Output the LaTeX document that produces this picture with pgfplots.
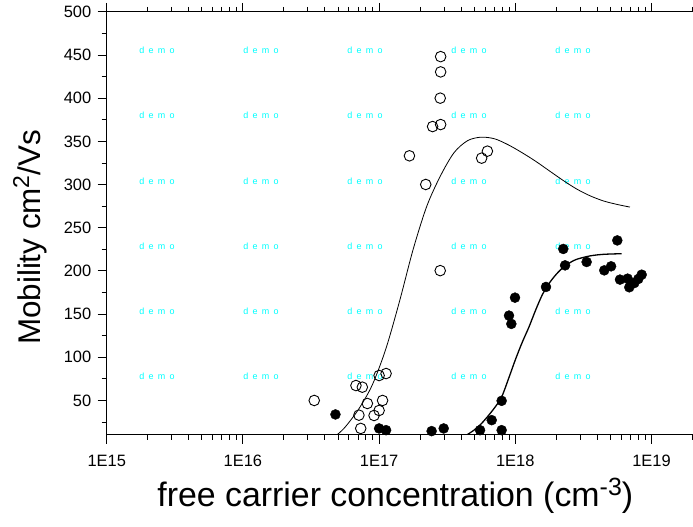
\documentclass[border=0pt]{standalone}
\usepackage{fontspec}
\setmainfont{Liberation Sans}
\usepackage{pgfplots}
\pgfplotsset{compat=1.18}
\definecolor{wm}{RGB}{0,255,255}

\begin{document}
\begin{tikzpicture}[x=1bp,y=1bp]
% watermark
\foreach \px in {157,261,365,469,573}{
  \foreach \py in {50,115.7,181,246.3,311.7,376.7}{
    \node[text=wm, font=\fontsize{9}{10}\selectfont, inner sep=0pt] at (\px-106.7, 435-\py) {d\hspace{4.2bp}e\hspace{4.2bp}m\hspace{4.2bp}o};
  }
}
\begin{axis}[
  at={(0,0)}, anchor=south west,
  scale only axis, width=587.5bp, height=423bp,
  xmode=log, log basis x=10,
  xmin=1e15, xmax=2.06e19, ymin=10, ymax=500,
  xtick={1e15,1e16,1e17,1e18,1e19},
  xticklabels={1E15,1E16,1E17,1E18,1E19},
  minor xtick={2e15,3e15,4e15,5e15,6e15,7e15,8e15,9e15,
               2e16,3e16,4e16,5e16,6e16,7e16,8e16,9e16,
               2e17,3e17,4e17,5e17,6e17,7e17,8e17,9e17,
               2e18,3e18,4e18,5e18,6e18,7e18,8e18,9e18,2e19},
  ytick={50,100,...,500},
  minor ytick={25,75,...,475},
  xtick pos=both, ytick pos=left,
  xticklabel pos=bottom,
  tick align=outside,
  major tick length=9bp, minor tick length=5bp,
  axis line style={line width=1bp},
  tick style={black, line width=1bp},
  tick label style={font=\fontsize{16.5}{18}\selectfont},
  xticklabel style={yshift=-8bp},
  yticklabel style={xshift=-3bp},
  /pgf/number format/assume math mode=true,
  xlabel={free carrier concentration (cm\raisebox{11bp}{\fontsize{25}{25}\selectfont -3})},
  ylabel={Mobility cm\raisebox{11bp}{\fontsize{23}{23}\selectfont 2}/Vs},
  xlabel style={font=\fontsize{34}{36}\selectfont, at={(rel axis cs:0.4911,-0.170)}, anchor=base},
  ylabel style={font=\fontsize{31.5}{34}\selectfont, at={(rel axis cs:-0.1306,0.467)}, anchor=center},
  clip=true,
]
% fit curve for open symbols
\addplot[black, line width=0.8bp, smooth] coordinates {
  (4.89e16,10) (5.62e16,19) (7.08e16,40) (8.91e16,68) (1.122e17,110)
  (1.413e17,165) (1.778e17,225) (2.239e17,275) (2.818e17,310)
  (3.548e17,337) (4.467e17,351) (5.62e17,355) (7.08e17,353)
  (8.91e17,346) (1.122e18,337) (1.413e18,327) (1.778e18,316)
  (2.239e18,305) (2.818e18,295) (3.548e18,287) (4.467e18,281)
  (5.62e18,277) (6.95e18,274)
};
% fit curve for filled symbols
\addplot[black, line width=1.3bp, smooth] coordinates {
  (4.40e17,10) (5.01e17,16) (5.62e17,23) (6.31e17,32) (7.08e17,42)
  (7.94e17,54) (8.91e17,75) (1.0e18,97) (1.122e18,117) (1.259e18,135)
  (1.413e18,155) (1.585e18,173) (1.778e18,186) (1.995e18,196)
  (2.239e18,204) (2.512e18,209.5) (2.818e18,213.5) (3.548e18,217.5)
  (4.467e18,219.3) (6.04e18,220)
};
% open circles
\addplot[only marks, mark=o, mark size=5.3bp, mark options={black, line width=0.9bp}] coordinates {
  (3.34e16,50) (6.76e16,67.3) (7.53e16,65.4) (1.125e17,81.2) (1.0e17,78.9)
  (8.2e16,46.5) (1.06e17,50) (7.11e16,33) (1.0e17,38.4) (9.18e16,32.6)
  (7.33e16,17.6) (2.83e17,448.3) (2.83e17,430.6) (2.81e17,400.2)
  (2.83e17,369.6) (2.47e17,367.3) (1.67e17,333.4) (6.24e17,338.8)
  (5.66e17,330.7) (2.20e17,300.2) (2.81e17,200.4)
};
% filled circles
\addplot[only marks, mark=*, mark size=5bp, mark options={black, fill=black}] coordinates {
  (4.78e16,33.8) (1.0e17,17.6) (1.125e17,15.6) (2.43e17,14.5) (2.98e17,17.6)
  (5.51e17,15.6) (6.71e17,27.2) (7.94e17,49.6) (7.94e17,15.6) (8.99e17,148.3)
  (9.35e17,138.7) (9.95e17,169.1) (1.68e18,181.5) (2.25e18,225.5)
  (2.32e18,206.5) (3.34e18,210.4) (5.61e18,235.4) (4.50e18,200.7)
  (5.05e18,205.4) (5.87e18,190) (6.68e18,191.1) (6.87e18,181.1)
  (7.48e18,186) (8.0e18,190.7) (8.47e18,195.7)
};
\end{axis}
\pgfresetboundingbox
\path[use as bounding box] (-106.7,-92) rectangle (586.3,435);
\end{tikzpicture}
\end{document}
